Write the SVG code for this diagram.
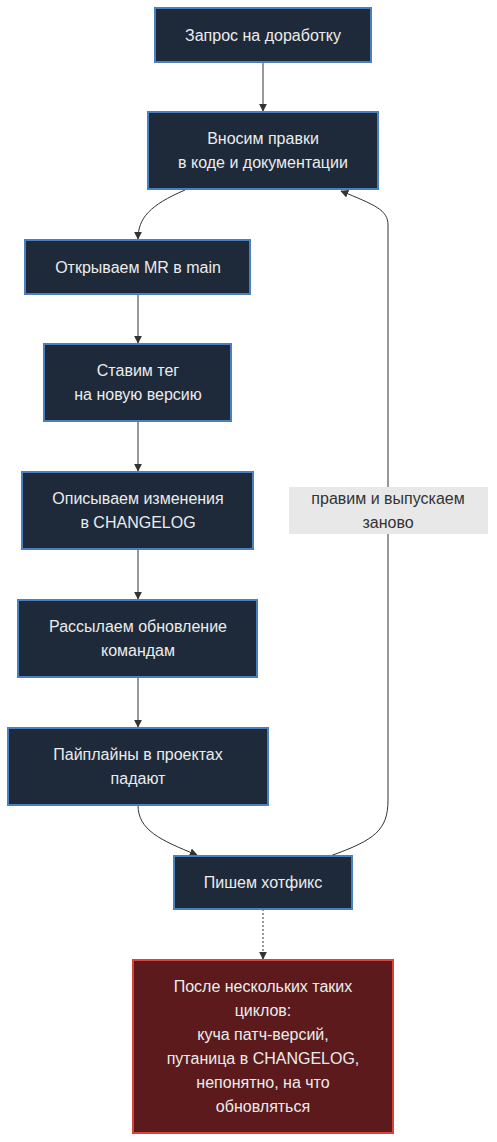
<svg xmlns="http://www.w3.org/2000/svg" width="497" height="1142" viewBox="0 0 497 1142">
<style>
.n rect{fill:#1e2a3a;stroke:#4a7fc0;stroke-width:2}
.bad rect{fill:#5c1a1c;stroke:#d9443a;stroke-width:2}
text{font-family:"Liberation Sans",Arial,sans-serif;font-size:16px;text-anchor:middle;fill:#ececec}
.lbl text{fill:#333}
.e path{fill:none;stroke:#333;stroke-width:1}
</style>
<defs>
<marker id="ah" viewBox="0 0 10 10" refX="9" refY="5" markerWidth="8" markerHeight="8" orient="auto-start-reverse" markerUnits="userSpaceOnUse">
<path d="M0,0L10,5L0,10z" fill="#333"/>
</marker>
</defs>
<g id="edges" class="e">
<path d="M263,62V111" marker-end="url(#ah)"/>
<path d="M185,190C150,205 138,218 138,239" marker-end="url(#ah)"/>
<path d="M138,294V343" marker-end="url(#ah)"/>
<path d="M138,421V471" marker-end="url(#ah)"/>
<path d="M138,549V599" marker-end="url(#ah)"/>
<path d="M138,677V727" marker-end="url(#ah)"/>
<path d="M138,805C138,830 160,840 197,855" marker-end="url(#ah)"/>
<path d="M330,856C375,840 388,830 388,800V225C388,210 375,205 341,191" marker-end="url(#ah)"/>
<path d="M263,909V959" stroke-dasharray="2,2" marker-end="url(#ah)"/>
</g>
<g id="label-loop" class="lbl">
<rect x="289" y="487" width="199" height="47" fill="#e8e8e8"/>
<text x="388" y="504">правим и выпускаем</text>
<text x="388" y="528">заново</text>
</g>
<g id="n1" class="n"><rect x="155" y="8" width="216" height="54"/><text x="263" y="41">Запрос на доработку</text></g>
<g id="n2" class="n"><rect x="148" y="112" width="230" height="77"/><text x="263" y="144">Вносим правки</text><text x="263" y="168">в коде и документации</text></g>
<g id="n3" class="n"><rect x="25" y="240" width="225" height="54"/><text x="138" y="273">Открываем MR в main</text></g>
<g id="n4" class="n"><rect x="44" y="344" width="187" height="77"/><text x="138" y="376">Ставим тег</text><text x="138" y="400">на новую версию</text></g>
<g id="n5" class="n"><rect x="22" y="472" width="231" height="77"/><text x="138" y="504">Описываем изменения</text><text x="138" y="528">в CHANGELOG</text></g>
<g id="n6" class="n"><rect x="18" y="600" width="239" height="77"/><text x="138" y="632">Рассылаем обновление</text><text x="138" y="656">командам</text></g>
<g id="n7" class="n"><rect x="8" y="728" width="260" height="77"/><text x="138" y="760">Пайплайны в проектах</text><text x="138" y="784">падают</text></g>
<g id="n8" class="n"><rect x="174" y="856" width="178" height="53"/><text x="263" y="888">Пишем хотфикс</text></g>
<g id="n9" class="bad"><rect x="133" y="960" width="260" height="173"/>
<text x="263" y="992">После нескольких таких</text>
<text x="263" y="1016">циклов:</text>
<text x="263" y="1040">куча патч-версий,</text>
<text x="263" y="1064">путаница в CHANGELOG,</text>
<text x="263" y="1088">непонятно, на что</text>
<text x="263" y="1112">обновляться</text>
</g>
</svg>
